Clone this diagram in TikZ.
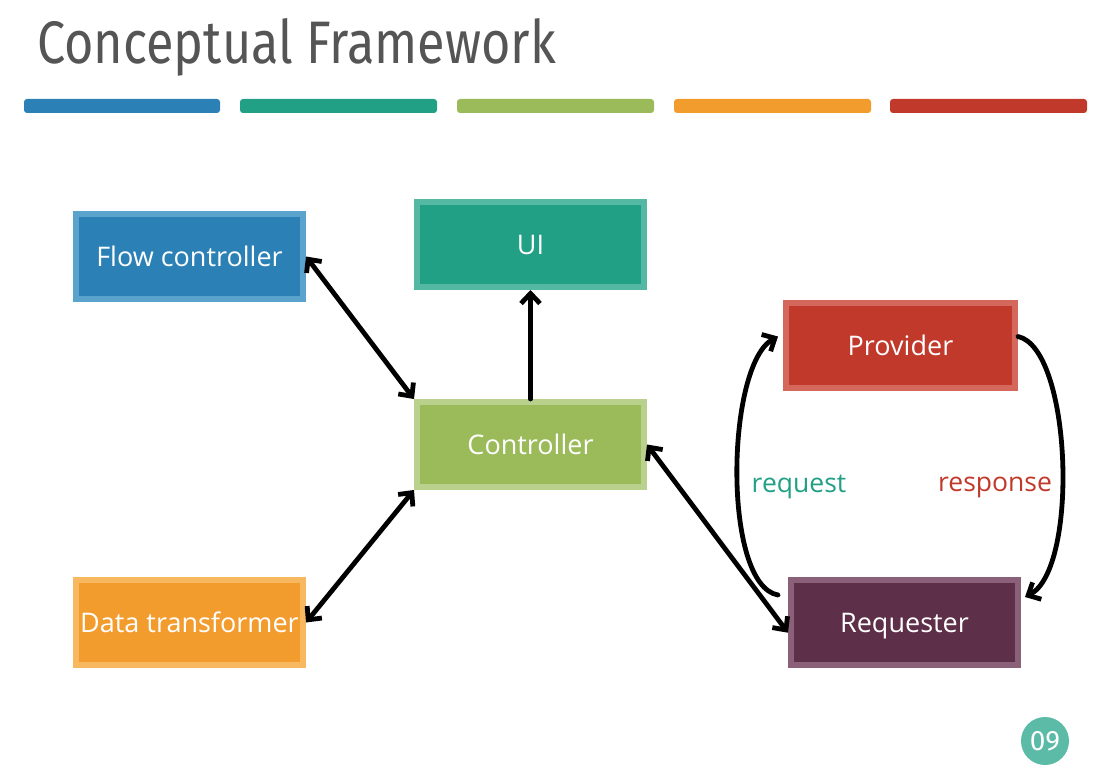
\documentclass[tikz,border=0pt]{standalone}
\usepackage{fontspec}
\setmainfont{Open Sans}
\newfontfamily\titlefont{Fira Sans}
\usetikzlibrary{arrows.meta,calc}

\definecolor{cblue}{HTML}{2B80B6}
\definecolor{cblueB}{HTML}{5AA3CC}
\definecolor{cteal}{HTML}{22A085}
\definecolor{ctealB}{HTML}{55B8A2}
\definecolor{cgreen}{HTML}{9BBB5A}
\definecolor{cgreenB}{HTML}{B9D18C}
\definecolor{corange}{HTML}{F39C2E}
\definecolor{corangeB}{HTML}{F8B860}
\definecolor{cred}{HTML}{C0392B}
\definecolor{credB}{HTML}{D4685C}
\definecolor{cplum}{HTML}{5E2F48}
\definecolor{cplumB}{HTML}{8A6178}
\definecolor{cbadge}{HTML}{5BBBA6}
\definecolor{ctitle}{HTML}{555555}

\begin{document}
\begin{tikzpicture}[x=1pt,y=-1pt,
  block/.style={rectangle, line width=6pt, minimum width=227pt, minimum height=85pt,
    inner sep=0pt, text=white, text height=19.4pt, text depth=0pt,
    font=\fontsize{27}{31}\selectfont},
  bar/.style={rounded corners=3pt},
  link/.style={line width=4.8pt, black, line cap=round},
  oneway/.style={link,-{Straight Barb[length=10pt,width=19pt]}},
  twoway/.style={link,{Straight Barb[length=10pt,width=19pt]}-{Straight Barb[length=10pt,width=19pt]}},
  tag/.style={font=\fontsize{26.5}{30}\selectfont}]

  % slide background
  \fill[white] (0,0) rectangle (1106,781);
  \useasboundingbox (0,0) rectangle (1106,781);

  % heading
  \node[anchor=base west, inner sep=0pt, text=ctitle] (title) at (37,64)
    {\scalebox{0.84}[1]{\titlefont\fontsize{60}{66}\selectfont Conceptual Framework}};

  % colour strip under the heading
  \fill[bar, cblue]   (24,99)  rectangle (220,113);
  \fill[bar, cteal]   (240,99) rectangle (437,113);
  \fill[bar, cgreen]  (457,99) rectangle (654,113);
  \fill[bar, corange] (674,99) rectangle (871,113);
  \fill[bar, cred]    (890,99) rectangle (1087,113);

  % components
  \node[block, fill=cblue,   draw=cblueB]   (flow) at (189.5,256.5) {Flow controller};
  \node[block, fill=cteal,   draw=ctealB]   (ui)   at (530.5,244.5) {UI};
  \node[block, fill=cgreen,  draw=cgreenB]  (ctrl) at (530.5,444.5) {Controller};
  \node[block, fill=corange, draw=corangeB] (data) at (189.5,622.5) {Data transformer};
  \node[block, fill=cred,    draw=credB, minimum width=229pt] (prov) at (900.5,345.5) {Provider};
  \node[block, fill=cplum,   draw=cplumB]   (req)  at (904.5,622.5) {Requester};

  % connections
  \draw[twoway] (flow.east) -- (ctrl.north west);
  \draw[oneway] (ctrl.north) -- (ui.south);
  \draw[twoway] (data.east) -- (ctrl.south west);
  \draw[twoway] (ctrl.east) -- (req.185);

  % request / response loop
  \coordinate (reqout) at ($(req.north west)+(-10,18)$);
  \coordinate (provin) at ($(prov.west)+(-5,-9)$);
  \coordinate (provout) at ($(prov.east)+(0,-9)$);
  \coordinate (reqin) at ($(req.north east)+(4,20)$);
  \draw[oneway] (reqout) .. controls +(-56,-10) and +(-52,28) .. (provin);
  \draw[oneway] (provout) .. controls +(54,12) and +(54,-28) .. (reqin);

  \node[tag, text=cteal] (lreq) at (799,487) {request};
  \node[tag, text=cred]  (lres) at (995,487) {response};

  % page number
  \node[circle, fill=cbadge, minimum size=48pt, inner sep=0pt, text=white,
        font=\titlefont\fontsize{28}{32}\selectfont] (page) at (1045,741) {09};
\end{tikzpicture}
\end{document}
